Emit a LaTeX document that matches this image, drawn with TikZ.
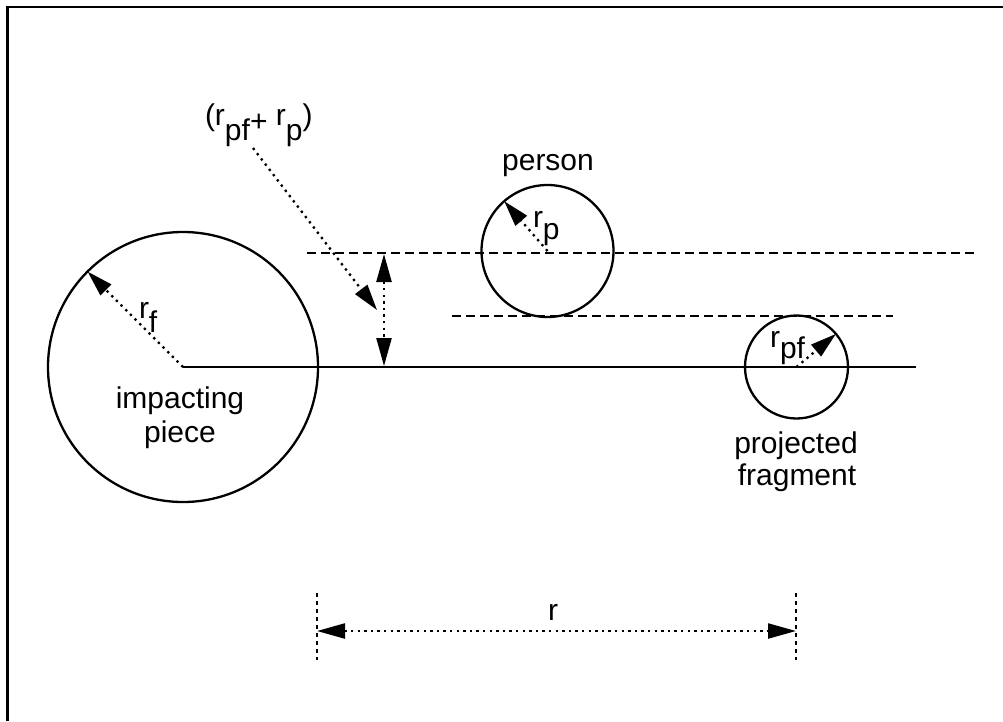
\documentclass[tikz,border=0pt]{standalone}
\usepackage{fontspec}
\setmainfont{Liberation Sans}
\usetikzlibrary{arrows.meta}
\begin{document}
\begin{tikzpicture}[x=1pt,y=-1pt,
  lbl/.style={font=\fontsize{30}{35}\selectfont, inner sep=0pt, outer sep=0pt},
  ring/.style={circle, draw, line width=2.3pt, inner sep=0pt, outer sep=0pt},
  solidl/.style={line width=2.3pt},
  dotl/.style={line width=2.3pt, dash pattern=on 2.3pt off 4.3pt},
  dashl/.style={line width=2.3pt, dash pattern=on 9pt off 5pt},
  shortdash/.style={line width=2.3pt, dash pattern=on 4pt off 4pt},
  tipend/.style={-{Triangle[length=26pt,width=15pt]}},
  tipboth/.style={{Triangle[length=28pt,width=15pt]}-{Triangle[length=28pt,width=15pt]}}
]
\useasboundingbox (0,0) rectangle (1003,721);
\fill[white] (0,0) rectangle (1003,721);
% frame (cropped at right and bottom)
\coordinate (fbl) at (7.5,721);
\coordinate (ftl) at (7.5,7);
\coordinate (ftr) at (1003,7);
\draw[line width=2.8pt] (fbl) -- (ftl) -- (ftr);

% circles
\node[ring, minimum size=270pt] (imp) at (183,367) {};
\node[ring, minimum size=132pt] (pers) at (547.5,251) {};
\node[ring, minimum size=103pt] (frag) at (796.5,367) {};

% solid centre line
\coordinate (lend) at (916,367);
\draw[solidl] (imp.center) -- (lend);

% dashed lines
\coordinate (dta) at (307,253);
\coordinate (dtb) at (975,253);
\coordinate (dba) at (452,316);
\coordinate (dbb) at (893,316);
\draw[dashl] (dta) -- (dtb);
\draw[dashl] (dba) -- (dbb);

% radii
\draw[dotl, tipend] (imp.center) -- (imp.135);
\draw[dotl, tipend] (pers.center) -- (pers.131);
\draw[dotl, tipend] (frag.center) -- (frag.40);

% vertical double arrow
\coordinate (va) at (384,254);
\coordinate (vb) at (384,366);
\draw[dotl, tipboth] (va) -- (vb);

% leader
\coordinate (lead) at (253,148);
\coordinate (leadtip) at (377,310);
\draw[dotl, tipend] (lead) -- (leadtip);

% r dimension
\coordinate (rlt) at (317,593);
\coordinate (rlb) at (317,660);
\coordinate (rrt) at (796,593);
\coordinate (rrb) at (796,660);
\coordinate (rl) at (317,631);
\coordinate (rr) at (796,631);
\draw[shortdash] (rlt) -- (rlb);
\draw[shortdash] (rrt) -- (rrb);
\draw[dotl, tipboth] (rl) -- (rr);

% labels
\node[lbl, anchor=base west] (sumlbl) at (205,125) {(r\raisebox{-15pt}{pf}\raisebox{-6pt}{+} r\raisebox{-15pt}{p})};
\node[lbl, anchor=base] (perslbl) at (548,170) {person};
\node[lbl, anchor=base west] (rplbl) at (533,227) {r\raisebox{-12pt}{p}};
\node[lbl, anchor=base west] (rflbl) at (139,318) {r\raisebox{-14pt}{f}};
\node[lbl, anchor=base west] (rpflbl) at (770,347) {r\raisebox{-11pt}{pf}};
\node[lbl, anchor=base] (implbla) at (180,408) {impacting};
\node[lbl, anchor=base] (implblb) at (180,442) {piece};
\node[lbl, anchor=base] (projlbla) at (796,453) {projected};
\node[lbl, anchor=base] (projlblb) at (797,485) {fragment};
\node[lbl, anchor=base] (rlbl) at (553,620) {r};
\end{tikzpicture}
\end{document}
